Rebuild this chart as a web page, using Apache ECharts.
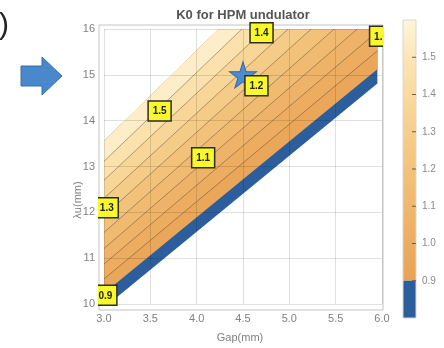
<!DOCTYPE html>
<html>
<head>
<meta charset="utf-8">
<script src="https://cdn.jsdelivr.net/npm/echarts@6/dist/echarts.min.js"></script>
<style>
html,body{margin:0;padding:0;background:#fff}
#c{width:444px;height:348px}
</style>
</head>
<body>
<div id="c"></div>
<script>
// axis ticks
const gapTicks = [3.0, 3.5, 4.0, 4.5, 5.0, 5.5, 6.0];
const periodTicks = [10, 11, 12, 13, 14, 15, 16];
const colorbarTicks = [0.9, 1.0, 1.1, 1.2, 1.3, 1.4, 1.5];

// outline of the computed (gap, period) region
const domainGap = [3.0, 3.05, 5.95, 5.95, 4.24, 3.0];
const domainPeriod = [10, 10, 14.81, 16, 16, 13.55];

// K0 = 0.9 level (top of the blue band): gap at period 10 and at period 16
const k09Line = [2.86, 6.48];
// contour lines: gap at period 10 and at period 16
const contourAt10 = [2.677, 2.493, 2.310, 2.127, 1.943, 1.760, 1.577, 1.393];
const contourAt16 = [6.231, 5.982, 5.733, 5.484, 5.236, 4.987, 4.738, 4.489];

// contour labels
const labelText = ['0.9', '1.3', '1.5', '1.1', '1.2', '1.4', '1.0'];
const labelGap = [3.015, 3.03, 3.60, 4.07, 4.645, 4.70, 5.99];
const labelPeriod = [10.19, 12.10, 14.21, 13.19, 14.76, 15.92, 15.84];

// chosen working point
const designPoint = [4.5, 15.0];

// fill colours: below 0.9, then each band from the 0.9 line upwards
const blueFill = '#2c5d9c';
const bandColors = ['#eaa659', '#ecad61', '#eeb368', '#f0ba71', '#f2c27b',
                    '#f5cb88', '#f8d698', '#fbe2ad', '#fdedc8'];

const domain = domainGap.map((g, i) => [g, domainPeriod[i]]);
const bandLines = [k09Line].concat(contourAt10.map((g, i) => [g, contourAt16[i]]));

// positive on the upper-left side of a line given by its gap at period 10 and 16
function side(line, p) {
  const gB = line[0], gT = line[1];
  return (gT - gB) * (p[1] - 10) - 6 * (p[0] - gB);
}
// keep the part of a polygon on the upper-left side of a line
function clipHalf(poly, line) {
  const out = [];
  for (let i = 0; i < poly.length; i++) {
    const a = poly[i], b = poly[(i + 1) % poly.length];
    const fa = side(line, a), fb = side(line, b);
    if (fa >= 0) out.push(a);
    if ((fa >= 0) !== (fb >= 0)) {
      const t = fa / (fa - fb);
      out.push([a[0] + t * (b[0] - a[0]), a[1] + t * (b[1] - a[1])]);
    }
  }
  return out;
}
// clip a segment to the convex region outline (counter-clockwise)
function clipSeg(a, b, poly) {
  let t0 = 0, t1 = 1;
  for (let i = 0; i < poly.length; i++) {
    const p = poly[i], q = poly[(i + 1) % poly.length];
    const fa = (q[0] - p[0]) * (a[1] - p[1]) - (q[1] - p[1]) * (a[0] - p[0]);
    const fb = (q[0] - p[0]) * (b[1] - p[1]) - (q[1] - p[1]) * (b[0] - p[0]);
    if (fa < 0 && fb < 0) return null;
    if (fa < 0) t0 = Math.max(t0, fa / (fa - fb));
    else if (fb < 0) t1 = Math.min(t1, fa / (fa - fb));
  }
  if (t0 >= t1) return null;
  const lerp = t => [a[0] + t * (b[0] - a[0]), a[1] + t * (b[1] - a[1])];
  return [lerp(t0), lerp(t1)];
}

const FONT = '"Liberation Sans", Arial, sans-serif';
const chart = echarts.init(document.getElementById('c'), null, {renderer: 'canvas'});

const option = {
  animation: false,
  backgroundColor: '#fff',
  title: {
    text: 'K0 for HPM undulator',
    left: 238, top: 4, textAlign: 'center',
    textStyle: {fontFamily: FONT, fontSize: 13, fontWeight: 'bold', color: '#555'}
  },
  grid: [
    {left: 104, right: 62, top: 29, bottom: 44},
    {left: 403, top: 20, width: 13, height: 298}
  ],
  xAxis: [
    {
      gridIndex: 0, type: 'value', min: 3, max: 6, interval: 0.5, z: 3,
      axisLine: {show: false}, axisTick: {show: false},
      axisLabel: {
        margin: 9, color: '#808080', fontFamily: FONT, fontSize: 11,
        customValues: gapTicks, formatter: v => v.toFixed(1)
      },
      splitLine: {show: true, lineStyle: {color: 'rgba(0,0,0,0.12)', width: 1}}
    },
    {gridIndex: 1, type: 'value', min: 0, max: 1, show: false}
  ],
  yAxis: [
    {
      gridIndex: 0, type: 'value', min: 10, max: 16, interval: 1, z: 3,
      axisLine: {show: false}, axisTick: {show: false},
      axisLabel: {
        margin: 9, color: '#808080', fontFamily: FONT, fontSize: 11,
        customValues: periodTicks
      },
      splitLine: {show: true, lineStyle: {color: 'rgba(0,0,0,0.12)', width: 1}}
    },
    {
      gridIndex: 1, type: 'value', min: 0.8, max: 1.6, interval: 0.1, position: 'right',
      axisLine: {show: false},
      axisTick: {show: true, length: 4, customValues: colorbarTicks, lineStyle: {color: '#6b5a45', width: 1}},
      axisLabel: {
        margin: 6, color: '#8a8a8a', fontFamily: FONT, fontSize: 10,
        customValues: colorbarTicks,
        formatter: v => (v < 0.85 || v > 1.55) ? '' : v.toFixed(1)
      },
      splitLine: {show: false}
    }
  ],
  graphic: [
    // plot frame
    {type: 'rect', z: 1, shape: {x: 99, y: 25, width: 284, height: 285},
     style: {fill: null, stroke: '#c4c4c4', lineWidth: 1}},
    // axis titles
    {type: 'text', z: 1, x: 240, y: 338,
     style: {text: 'Gap(mm)', font: '11px ' + FONT, fill: '#808080', align: 'center', verticalAlign: 'middle'}},
    {type: 'text', z: 1, x: 78, y: 200, rotation: Math.PI / 2,
     style: {text: 'λu(mm)', font: '11px ' + FONT, fill: '#808080', align: 'center', verticalAlign: 'middle'}},
    // pointer arrow
    {type: 'polygon', z: 1,
     shape: {points: [[21, 66], [42, 66], [42, 57], [62, 76], [42, 95], [42, 86], [21, 86]]},
     style: {fill: '#4a88cc', stroke: '#3a6ea8', lineWidth: 1}},
    // panel-label fragment
    {type: 'text', z: 1, x: -1, y: 26,
     style: {text: ')', font: '30px ' + FONT, fill: '#222', verticalAlign: 'middle'}}
  ],
  series: [
    {
      // filled K0 bands
      type: 'custom', xAxisIndex: 0, yAxisIndex: 0, z: 2,
      data: bandColors.map((c, i) => [i]).concat([[bandColors.length]]),
      renderItem: function (params, api) {
        const idx = params.dataIndex;
        let poly = domain;
        if (idx > 0) poly = clipHalf(domain, bandLines[idx - 1]);
        if (poly.length < 3) return null;
        return {
          type: 'polygon',
          shape: {points: poly.map(p => api.coord(p))},
          style: {fill: idx === 0 ? blueFill : bandColors[idx - 1]}
        };
      }
    },
    {
      // contour lines
      type: 'custom', xAxisIndex: 0, yAxisIndex: 0, z: 4,
      data: contourAt10.map((g, i) => [i]),
      renderItem: function (params, api) {
        const i = params.dataIndex;
        const seg = clipSeg([contourAt10[i], 10], [contourAt16[i], 16], domain);
        if (!seg) return null;
        const a = api.coord(seg[0]), b = api.coord(seg[1]);
        return {
          type: 'line',
          shape: {x1: a[0], y1: a[1], x2: b[0], y2: b[1]},
          style: {stroke: 'rgba(80,60,40,0.55)', lineWidth: 0.8}
        };
      }
    },
    {
      // working point
      type: 'scatter', xAxisIndex: 0, yAxisIndex: 0, z: 5,
      data: [designPoint],
      symbol: 'path://M50,0 L61,35 L98,35 L68,57 L79,91 L50,70 L21,91 L32,57 L2,35 L39,35 Z',
      symbolSize: [27, 26],
      itemStyle: {color: '#4a8dd6', borderColor: '#3468a8', borderWidth: 1, opacity: 1}
    },
    {
      // contour value labels, clipped at the frame
      type: 'custom', xAxisIndex: 0, yAxisIndex: 0, z: 6,
      data: labelText.map((t, i) => [labelGap[i], labelPeriod[i]]),
      renderItem: function (params, api) {
        const i = params.dataIndex;
        const c = api.coord([labelGap[i], labelPeriod[i]]);
        const cs = params.coordSys;
        const w = 23, h = 20;
        return {
          type: 'group',
          clipPath: {type: 'rect', shape: {x: cs.x - 6, y: cs.y - 7, width: cs.width + 7, height: cs.height + 13}},
          children: [
            {type: 'rect', shape: {x: c[0] - w / 2, y: c[1] - h / 2, width: w, height: h},
             style: {fill: '#f8f82a', stroke: '#2e2e1e', lineWidth: 1.5}},
            {type: 'text',
             style: {text: labelText[i], x: c[0], y: c[1] + 0.5, align: 'center', verticalAlign: 'middle',
                     font: 'bold 10px ' + FONT, fill: '#222'}}
          ]
        };
      }
    },
    {
      // colour bar
      type: 'custom', xAxisIndex: 1, yAxisIndex: 1, z: 2,
      data: [[0.5, 1.2]],
      renderItem: function (params, api) {
        const tl = api.coord([0, 1.6]), br = api.coord([1, 0.8]);
        const mid = api.coord([1, 0.9]);
        const children = [
          {type: 'rect', shape: {x: tl[0], y: tl[1], width: br[0] - tl[0], height: mid[1] - tl[1]},
           style: {fill: {type: 'linear', x: 0, y: 0, x2: 0, y2: 1, colorStops: [
             {offset: 0, color: '#fef5d9'}, {offset: 0.143, color: '#fce6b6'},
             {offset: 0.286, color: '#f9daa0'}, {offset: 0.429, color: '#f6ce8b'},
             {offset: 0.571, color: '#f3c37b'}, {offset: 0.714, color: '#efb86d'},
             {offset: 0.857, color: '#ecad61'}, {offset: 1, color: '#e9a255'}]}}},
          {type: 'rect', shape: {x: tl[0], y: mid[1], width: br[0] - tl[0], height: br[1] - mid[1]},
           style: {fill: blueFill}},
          {type: 'rect', shape: {x: tl[0], y: tl[1], width: br[0] - tl[0], height: br[1] - tl[1]},
           style: {fill: null, stroke: '#d6d6d6', lineWidth: 1}}
        ];
        colorbarTicks.forEach(v => {
          const p = api.coord([1, v]);
          children.push({type: 'line', shape: {x1: p[0] - 4, y1: p[1], x2: p[0], y2: p[1]},
                         style: {stroke: '#6b5a45', lineWidth: 1}});
        });
        return {type: 'group', children: children};
      }
    }
  ]
};
chart.setOption(option);
</script>
</body>
</html>
